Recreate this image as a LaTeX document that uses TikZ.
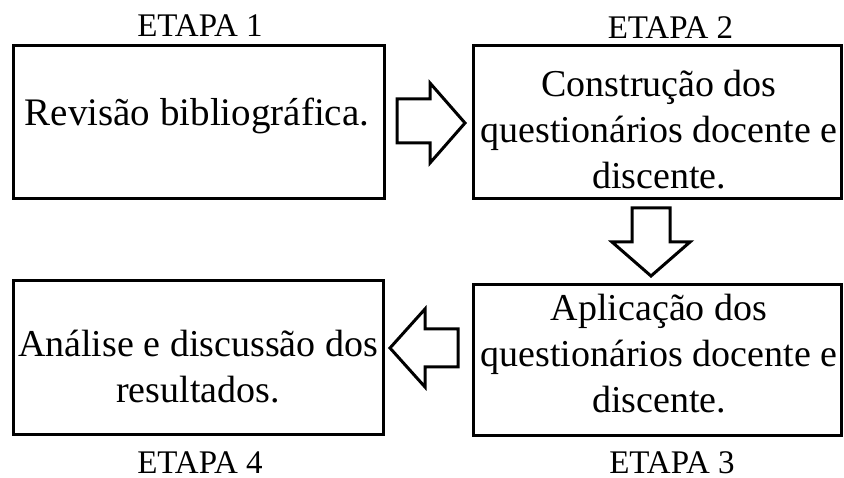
\documentclass[tikz,border=0pt]{standalone}
\usepackage{fontspec}
\setmainfont{Liberation Serif}
\begin{document}
\begin{tikzpicture}[x=1pt,y=-1pt,
  box/.style={draw, line width=3pt, inner sep=0pt},
  blk/.style={draw, line width=3pt, line join=miter, fill=white},
  txt/.style={font=\fontsize{38}{46}\selectfont, align=center, inner sep=0pt},
  lab/.style={font=\fontsize{33}{38}\selectfont, inner sep=0pt, anchor=base, text depth=0pt}]
\useasboundingbox (0,0) rectangle (844,478);
% boxes
\node[box, minimum width=371pt, minimum height=153pt] (b1) at (199,122) {};
\node[box, minimum width=368pt, minimum height=153pt] (b2) at (657.5,122) {};
\node[box, minimum width=368pt, minimum height=151pt] (b3) at (657.5,360) {};
\node[box, minimum width=370pt, minimum height=154pt] (b4) at (198.5,357.5) {};
% texts
\node[txt, anchor=base, font=\fontsize{39}{46}\selectfont] (t1) at (197,126) {Revisão bibliográfica.};
\node[txt] (t2) at (659,130) {Construção dos\\questionários docente e\\discente.};
\node[txt] (t3) at (659,354) {Aplicação dos\\questionários docente e\\discente.};
\node[txt] (t4) at (198,367) {Análise e discussão dos\\resultados.};
% labels
\node[lab] (e1) at (200,37) {ETAPA 1};
\node[lab] (e2) at (670.5,39) {ETAPA 2};
\node[lab] (e3) at (672,473) {ETAPA 3};
\node[lab] (e4) at (200,473) {ETAPA 4};
% block arrows
\draw[blk] (397,99) -- (430,99) -- (430,83) -- (465,123) -- (430,163) -- (430,143) -- (397,143) -- cycle;
\draw[blk] (632,208) -- (670,208) -- (670,242) -- (690,242) -- (651,276) -- (612,242) -- (632,242) -- cycle;
\draw[blk] (458,329) -- (425,329) -- (425,309) -- (390,348) -- (425,387) -- (425,367) -- (458,367) -- cycle;
\end{tikzpicture}
\end{document}
